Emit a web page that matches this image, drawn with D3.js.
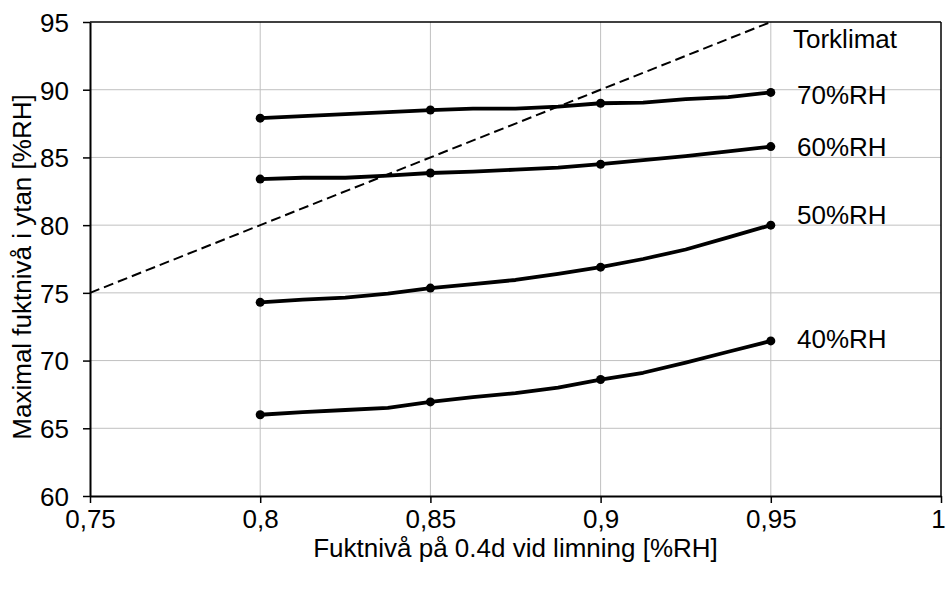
<!DOCTYPE html>
<html><head><meta charset="utf-8">
<script src="https://cdn.jsdelivr.net/npm/d3@7"></script>
<style>body{margin:0;background:#fff;}svg{display:block;font-family:"Liberation Sans",Arial,sans-serif;}</style>
</head><body>
<svg id="c" width="947" height="590"></svg>
<script>
// Data
const xLine = [0.8, 0.8125, 0.825, 0.8375, 0.85, 0.8625, 0.875, 0.8875, 0.9, 0.9125, 0.925, 0.9375, 0.95];
const rh70 = [87.9, 88.05, 88.2, 88.35, 88.5, 88.6, 88.6, 88.75, 89.0, 89.05, 89.3, 89.45, 89.8];
const rh60 = [83.4, 83.5, 83.5, 83.65, 83.85, 83.95, 84.1, 84.25, 84.5, 84.8, 85.1, 85.45, 85.8];
const rh50 = [74.3, 74.5, 74.65, 74.95, 75.35, 75.65, 75.95, 76.4, 76.9, 77.5, 78.2, 79.1, 80.0];
const rh40 = [66.0, 66.2, 66.35, 66.5, 66.95, 67.3, 67.6, 68.0, 68.6, 69.1, 69.85, 70.65, 71.45];
const xMarkers = [0.8, 0.85, 0.9, 0.95];
const seriesNames = ["70%RH", "60%RH", "50%RH", "40%RH"];
const seriesData = [rh70, rh60, rh50, rh40];
const labelAt = [89.65, 85.76, 80.8, 71.6];
const refLineX = [0.75, 0.95];
const refLineY = [75, 95];
const xTicks = [0.75, 0.8, 0.85, 0.9, 0.95, 1];
const yTicks = [60, 65, 70, 75, 80, 85, 90, 95];
const legendTitle = "Torklimat";
const xTitle = "Fuktnivå på 0.4d vid limning [%RH]";
const yTitle = "Maximal fuktnivå i ytan [%RH]";

const FS = 26;
const svg = d3.select("#c");
const L = 90, R = 941, T = 22, B = 496;
const x = d3.scaleLinear().domain([0.75, 1]).range([L, R]);
const y = d3.scaleLinear().domain([60, 95]).range([B, T]);
const fmt = d => String(d).replace(".", ",");

// grid
svg.append("g").selectAll("line").data(xTicks.slice(1, -1)).join("line")
  .attr("x1", d => x(d)).attr("x2", d => x(d)).attr("y1", T).attr("y2", B)
  .attr("stroke", "#c0c0c0").attr("stroke-width", 1);
svg.append("g").selectAll("line").data(yTicks.slice(1, -1)).join("line")
  .attr("x1", L).attr("x2", R).attr("y1", d => y(d)).attr("y2", d => y(d))
  .attr("stroke", "#c0c0c0").attr("stroke-width", 1);

// border top/right
svg.append("line").attr("x1", L).attr("x2", R).attr("y1", T).attr("y2", T).attr("stroke", "#000").attr("stroke-width", 1.5);
svg.append("line").attr("x1", R).attr("x2", R).attr("y1", T).attr("y2", B).attr("stroke", "#000").attr("stroke-width", 1.5);

// axes
const xAxis = svg.append("g").attr("transform", `translate(0,${B})`)
  .call(d3.axisBottom(x).tickValues(xTicks).tickFormat(fmt).tickSize(7).tickSizeOuter(0));
const yAxis = svg.append("g").attr("transform", `translate(${L},0)`)
  .call(d3.axisLeft(y).tickValues(yTicks).tickFormat(d => d).tickSize(7).tickSizeOuter(0));
[xAxis, yAxis].forEach(a => {
  a.select(".domain").attr("stroke", "#000").attr("stroke-width", 2);
  a.selectAll(".tick line").attr("stroke", "#000").attr("stroke-width", 1.5);
  a.selectAll("text").attr("font-size", FS).attr("fill", "#000").attr("font-family", "Liberation Sans, Arial, sans-serif");
});
xAxis.selectAll("text").attr("dy", null).attr("y", 32)
  .attr("x", d => d === 1 ? -3 : 0);
yAxis.selectAll("text").attr("x", -21).attr("dy", "0.36em");

// reference dashed line
svg.append("line")
  .attr("x1", x(refLineX[0])).attr("y1", y(refLineY[0]))
  .attr("x2", x(refLineX[1])).attr("y2", y(refLineY[1]))
  .attr("stroke", "#000").attr("stroke-width", 2).attr("stroke-dasharray", "10,5");

// series
const line = d3.line().x(d => x(d[0])).y(d => y(d[1]));
seriesData.forEach(vals => {
  const pts = xLine.map((xv, i) => [xv, vals[i]]);
  svg.append("path").datum(pts).attr("d", line)
    .attr("fill", "none").attr("stroke", "#000").attr("stroke-width", 3.8).attr("stroke-linejoin", "round");
  const mk = xMarkers.map(xv => [xv, vals[xLine.indexOf(xv)]]);
  svg.append("g").selectAll("circle").data(mk).join("circle")
    .attr("cx", d => x(d[0])).attr("cy", d => y(d[1])).attr("r", 4.5).attr("fill", "#000");
});

// labels
svg.append("text").attr("x", 793).attr("y", 48).attr("font-size", FS).text(legendTitle);
seriesNames.forEach((n, i) => {
  svg.append("text").attr("x", 797).attr("y", y(labelAt[i])).attr("dy", "0.36em")
    .attr("font-size", FS).text(n);
});

// titles
svg.append("text").attr("x", (L + R) / 2).attr("y", 557).attr("text-anchor", "middle").attr("font-size", FS).text(xTitle);
svg.append("text").attr("transform", `translate(31,267) rotate(-90)`).attr("text-anchor", "middle").attr("font-size", FS).text(yTitle);
</script>
</body></html>
